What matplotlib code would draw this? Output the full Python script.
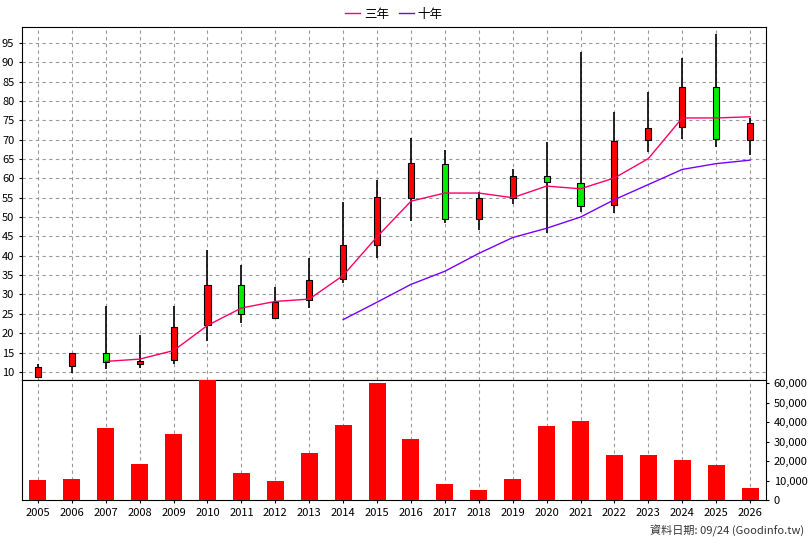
import matplotlib
matplotlib.use("Agg")
import matplotlib.pyplot as plt
from matplotlib.ticker import FuncFormatter

plt.rcParams['font.family'] = ['Noto Sans CJK TC', 'DejaVu Sans']

years = list(range(2005, 2027))
opens  = [8.7, 11.5, 15.0, 12.0, 13.0, 22.0, 32.4, 24.0, 28.6, 34.0, 42.8, 55.0, 63.7, 49.5, 55.0, 60.7, 58.7, 53.1, 69.9, 73.3, 83.6, 69.9]
highs  = [12.0, 15.0, 27.0, 19.5, 27.0, 41.5, 37.5, 32.0, 39.3, 54.0, 59.6, 70.5, 67.4, 56.5, 62.5, 69.4, 92.7, 77.2, 82.2, 91.1, 97.4, 75.6]
lows   = [8.3, 9.8, 10.8, 11.0, 12.0, 18.0, 22.5, 23.8, 26.5, 33.0, 39.4, 49.0, 48.5, 46.6, 53.4, 45.9, 51.3, 51.0, 66.7, 70.2, 68.0, 66.0]
closes = [11.3, 15.0, 12.5, 12.7, 21.6, 32.4, 25.0, 28.0, 33.8, 42.8, 55.2, 64.0, 49.5, 55.0, 60.7, 59.0, 52.8, 69.7, 73.1, 83.6, 70.2, 74.3]
ma3_years = list(range(2007, 2027))
ma3 = [12.7, 13.3, 15.5, 22.0, 26.5, 28.2, 28.8, 34.9, 44.9, 54.1, 56.2, 56.2, 55.0, 58.0, 57.3, 60.1, 65.1, 75.6, 75.6, 75.9]
ma10_years = list(range(2014, 2027))
ma10 = [23.5, 28.0, 32.6, 36.0, 40.6, 44.7, 47.1, 50.0, 54.5, 58.4, 62.3, 63.8, 64.7]
volume = [10500, 11000, 37000, 18500, 34000, 62000, 14000, 10000, 24000, 38500, 60000, 31500, 8000, 5300, 11000, 37800, 40500, 23000, 23000, 20500, 18000, 6000]

fig = plt.figure(figsize=(8.08, 5.40), dpi=100)
ax1 = fig.add_axes([22/808, 160/540, 744/808, 353/540])
ax2 = fig.add_axes([22/808, 40/540, 744/808, 120/540])

grid_kw = dict(color='#999999', linestyle=(0, (3, 3)), linewidth=0.8)
for ax in (ax1, ax2):
    ax.set_xlim(2004.53, 2026.47)
    ax.set_xticks(years)
    ax.grid(True, **grid_kw)
    ax.set_axisbelow(True)
    for s in ax.spines.values():
        s.set_color('black')

# candles
for y, o, h, l, c in zip(years, opens, highs, lows, closes):
    col = '#ff0000' if c >= o else '#00ee00'
    ax1.vlines(y, l, h, color='black', linewidth=1.2, zorder=2)
    ax1.bar(y, abs(c - o), bottom=min(o, c), width=0.18, color=col, edgecolor='black', linewidth=0.8, zorder=3)
ax1.plot(ma3_years, ma3, color='#ff0066', linewidth=1, label='三年', zorder=4)
ax1.plot(ma10_years, ma10, color='#7700ff', linewidth=1, label='十年', zorder=4)
ax1.set_ylim(7.9, 99.1)
ax1.set_yticks(range(10, 100, 5))
ax1.tick_params(axis='y', labelsize=8, length=2)
ax1.tick_params(axis='x', labelbottom=False, length=0)
ax1.legend(loc='lower center', bbox_to_anchor=(0.5, 1.0), ncol=2, frameon=False, fontsize=9,
           handlelength=1.2, handletextpad=0.3, columnspacing=0.8, borderaxespad=0.1)

ax2.bar(years, volume, width=0.5, color='#ff0000', zorder=3)
ax2.set_ylim(0, 61600)
ax2.set_yticks(range(0, 60001, 10000))
ax2.yaxis.tick_right()
ax2.yaxis.set_major_formatter(FuncFormatter(lambda v, p: f'{int(v):,}'))
ax2.tick_params(axis='y', labelsize=8, length=2)
ax2.tick_params(axis='x', labelsize=8, length=2)
ax2.grid(False, axis='y')

fig.text(0.995, 0.005, '資料日期: 09/24 (Goodinfo.tw)', ha='right', va='bottom', fontsize=8, color='#333333')
fig.savefig('out.png', dpi=100)
